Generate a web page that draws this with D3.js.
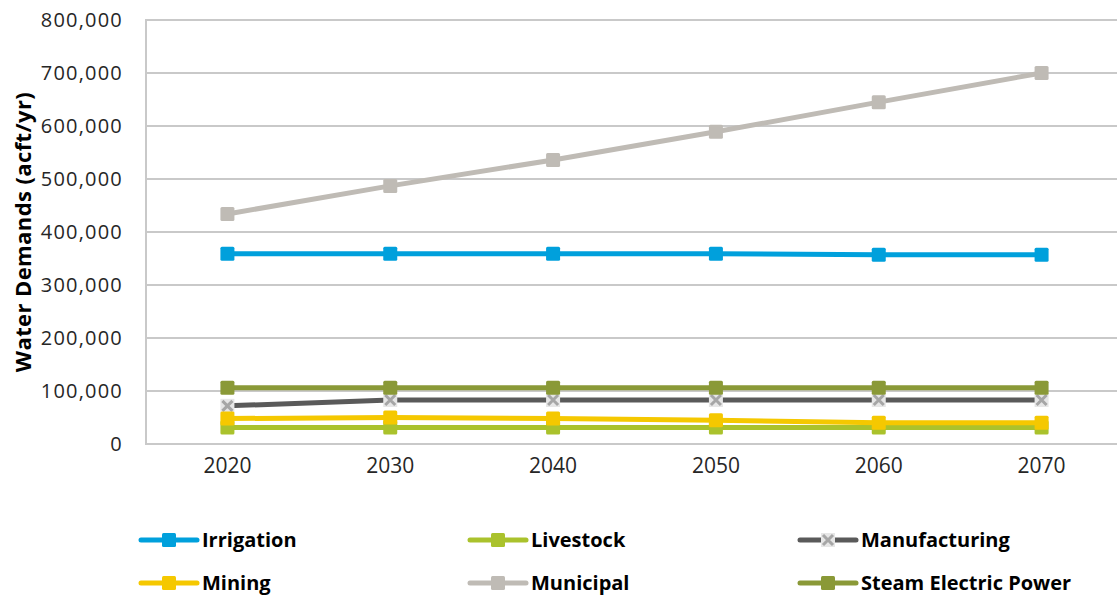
<!DOCTYPE html>
<html>
<head>
<meta charset="utf-8">
<script src="https://cdn.jsdelivr.net/npm/d3@7"></script>
<style>
  body { margin: 0; background: #fff; }
  svg { display: block; font-family: "Open Sans", sans-serif; }
</style>
</head>
<body>
<div id="chart"></div>
<script>
const years = ["2020", "2030", "2040", "2050", "2060", "2070"];
const yTicks = [0, 100000, 200000, 300000, 400000, 500000, 600000, 700000, 800000];

const irrigation = [359000, 359000, 359000, 359000, 357000, 357000];
const livestock = [31000, 31000, 31000, 31000, 31000, 31000];
const manufacturing = [72000, 83000, 83000, 83000, 83000, 83000];
const mining = [48000, 50000, 48000, 45000, 40000, 40000];
const municipal = [434000, 487000, 536000, 589000, 645000, 700000];
const steamElectric = [106000, 106000, 106000, 106000, 106000, 106000];

const series = [
    { name: "Irrigation", values: irrigation, color: "#00A0DC", marker: "square", markerColor: "#00A0DC" },
    { name: "Livestock", values: livestock, color: "#AAC22C", marker: "square", markerColor: "#AAC22C" },
    { name: "Manufacturing", values: manufacturing, color: "#5A5A5A", marker: "x", markerColor: "#A6A6A6" },
    { name: "Mining", values: mining, color: "#F5C800", marker: "square", markerColor: "#F5C800" },
    { name: "Municipal", values: municipal, color: "#BFBBB5", marker: "square", markerColor: "#BFBBB5" },
    { name: "Steam Electric Power", values: steamElectric, color: "#8A9937", marker: "square", markerColor: "#8A9937" }
];

const width = 1117;
const height = 597;
const plot = { left: 146, top: 20, right: 1123, bottom: 444 };

const svg = d3.select("#chart")
    .append("svg")
    .attr("width", width)
    .attr("height", height);

const xScale = d3.scaleBand()
    .domain(years)
    .range([plot.left, plot.right]);

const yScale = d3.scaleLinear()
    .domain([0, 800000])
    .range([plot.bottom, plot.top]);

// grid lines
svg.selectAll(".yGrid")
    .data(yTicks)
    .enter()
    .append("line")
    .attr("class", "yGrid")
    .attr("x1", plot.left)
    .attr("x2", plot.right)
    .attr("y1", d => yScale(d))
    .attr("y2", d => yScale(d))
    .attr("stroke", "#C9C9C9")
    .attr("stroke-width", 2);

svg.append("line")
    .attr("x1", plot.left)
    .attr("x2", plot.left)
    .attr("y1", plot.top - 1)
    .attr("y2", plot.bottom + 1)
    .attr("stroke", "#C9C9C9")
    .attr("stroke-width", 2);

const yAxis = svg.append("g")
    .attr("transform", `translate(${plot.left},0)`)
    .call(d3.axisLeft(yScale).tickValues(yTicks).tickFormat(d3.format(",")).tickSize(0).tickPadding(23));
yAxis.select(".domain").remove();
yAxis.selectAll("text")
    .style("font-size", "20px")
    .style("letter-spacing", "1.2px")
    .style("font-family", "'Open Sans', sans-serif")
    .attr("fill", "#262626");

const xAxis = svg.append("g")
    .attr("transform", `translate(0,${plot.bottom})`)
    .call(d3.axisBottom(xScale).tickSize(0).tickPadding(14));
xAxis.select(".domain").remove();
xAxis.selectAll("text")
    .style("font-size", "21px")
    .style("font-family", "'Open Sans', sans-serif")
    .attr("fill", "#262626");

svg.append("text")
    .attr("transform", "rotate(-90)")
    .attr("x", -232)
    .attr("y", 31)
    .style("text-anchor", "middle")
    .style("font-size", "22px")
    .style("letter-spacing", "0.4px")
    .style("font-weight", "bold")
    .attr("fill", "#000")
    .text("Water Demands (acft/yr)");

const line = d3.line()
    .x((d, i) => xScale(years[i]) + xScale.bandwidth() / 2)
    .y(d => yScale(d));

function drawMarker(g, s, cx, cy) {
    if (s.marker === "square") {
        g.append("rect")
            .attr("x", cx - 7)
            .attr("y", cy - 7)
            .attr("width", 14)
            .attr("height", 14)
            .attr("rx", 1.5)
            .attr("fill", s.markerColor);
    } else {
        g.append("rect")
            .attr("x", cx - 7)
            .attr("y", cy - 7)
            .attr("width", 14)
            .attr("height", 14)
            .attr("fill", "#E6E6E6");
        g.append("path")
            .attr("d", `M${cx - 5},${cy - 5}L${cx + 5},${cy + 5}M${cx + 5},${cy - 5}L${cx - 5},${cy + 5}`)
            .attr("stroke", s.markerColor)
            .attr("stroke-width", 3);
    }
}

series.forEach(s => {
    const g = svg.append("g");
    g.append("path")
        .datum(s.values)
        .attr("fill", "none")
        .attr("stroke", s.color)
        .attr("stroke-width", 5)
        .attr("d", line);
    s.values.forEach((v, i) => {
        drawMarker(g, s, xScale(years[i]) + xScale.bandwidth() / 2, yScale(v));
    });
});

// legend
const legendCols = [141, 470, 800];
const legendRows = [540, 583];
series.forEach((s, i) => {
    const lx = legendCols[i % 3];
    const ly = legendRows[Math.floor(i / 3)];
    const g = svg.append("g");
    g.append("line")
        .attr("x1", lx)
        .attr("x2", lx + 56)
        .attr("y1", ly)
        .attr("y2", ly)
        .attr("stroke", s.color)
        .attr("stroke-width", 5)
        .attr("stroke-linecap", "round");
    drawMarker(g, s, lx + 28, ly);
    g.append("text")
        .attr("x", lx + 61)
        .attr("y", ly)
        .attr("dy", "0.36em")
        .style("font-size", "20px")
        .style("font-weight", "bold")
        .attr("fill", "#000")
        .text(s.name);
});
</script>
</body>
</html>
